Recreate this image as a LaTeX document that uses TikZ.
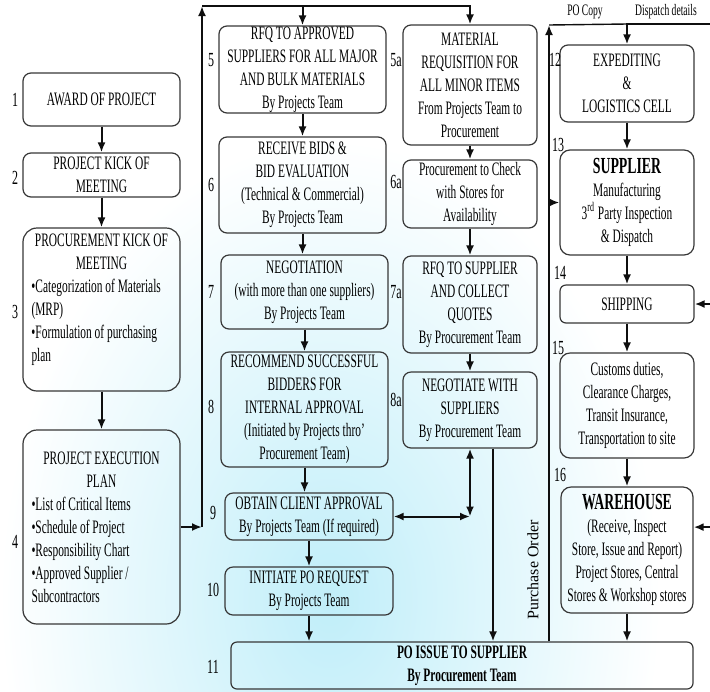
\documentclass[tikz,border=0pt]{standalone}
\usepackage{fontspec}
\setmainfont{Liberation Serif}[FakeStretch=0.6]
\newfontfamily\plainserif{Liberation Serif}
\usepackage{xcolor}
\usepackage{tikz}
\usetikzlibrary{arrows.meta, calc}
\definecolor{mydark}{RGB}{15,15,15}
\definecolor{myedge}{RGB}{55,55,55}
\definecolor{mycyan}{RGB}{192,238,249}
\newcommand{\headline}[1]{\makebox[70pt]{#1}}
\tikzset{
  stepbox/.style={rectangle, draw=myedge, line width=0.6pt, rounded corners=4pt,
    align=center, inner sep=0pt, font=\fontsize{9.5}{11.5}\selectfont},
  bigbox/.style={stepbox, rounded corners=7pt, align=left},
  numlabel/.style={inner sep=0pt, font=\fontsize{10}{12}\selectfont},
  toplabel/.style={inner sep=0pt, font=\fontsize{8}{9.6}\selectfont},
  sidelabel/.style={inner sep=0pt, rotate=90, font=\plainserif\fontsize{8}{9.6}\selectfont},
  arrow/.style={-{Latex[length=5pt,width=4pt]}, line width=1pt, color=mydark},
  dblarrow/.style={{Latex[length=5pt,width=4pt]}-{Latex[length=5pt,width=4pt]}, line width=1pt, color=mydark},
  line/.style={line width=1pt, color=mydark}
}
\begin{document}
\begin{tikzpicture}[x=0.5pt, y=-0.5pt]
  \useasboundingbox (0,0) rectangle (710,691);
  % background tint
  \shade[inner color=mycyan, outer color=white] (330,600) ellipse (165pt and 230pt);

  % left column
  \node[stepbox, minimum width=78.5pt, minimum height=26.5pt] (b1) at (101.5,99.5) {AWARD OF PROJECT};
  \node[stepbox, minimum width=78.5pt, minimum height=22pt] (b2) at (101.5,175) {PROJECT KICK OF\\MEETING};
  \node[bigbox, minimum width=78.5pt, minimum height=81.5pt] (b3) at (101.5,309.5)
    {\headline{PROCUREMENT KICK OF}\\\headline{MEETING}\\
     \textbullet Categorization of Materials\\(MRP)\\\textbullet Formulation of purchasing\\plan\\\mbox{}};
  \node[bigbox, minimum width=78.5pt, minimum height=97pt] (b4) at (101.5,527)
    {\headline{PROJECT EXECUTION}\\\headline{PLAN}\\
     \textbullet List of Critical Items\\\textbullet Schedule of Project\\\textbullet Responsibility Chart\\
     \textbullet Approved Supplier /\\Subcontractors};

  % projects team column
  \node[stepbox, minimum width=83.5pt, minimum height=43.5pt] (b5) at (302.5,69.5)
    {RFQ TO APPROVED\\SUPPLIERS FOR ALL MAJOR\\AND BULK MATERIALS\\By Projects Team};
  \node[stepbox, minimum width=83.5pt, minimum height=48pt] (b6) at (302.5,185)
    {RECEIVE BIDS \&\\BID EVALUATION\\(Technical \& Commercial)\\By Projects Team};
  \node[stepbox, minimum width=83.5pt, minimum height=37pt] (b7) at (304.5,292)
    {NEGOTIATION\\(with more than one suppliers)\\By Projects Team};
  \node[stepbox, minimum width=83.5pt, minimum height=57.5pt] (b8) at (304.5,409.5)
    {RECOMMEND SUCCESSFUL\\BIDDERS FOR\\INTERNAL APPROVAL\\(Initiated by Projects thro'\\Procurement Team)};
  \node[stepbox, minimum width=84pt, minimum height=23.5pt] (b9) at (309,516.5)
    {OBTAIN CLIENT APPROVAL\\By Projects Team (If required)};
  \node[stepbox, minimum width=84pt, minimum height=24pt] (b10) at (309,591)
    {INITIATE PO REQUEST\\By Projects Team};
  \node[stepbox, rounded corners=3pt, minimum width=231pt, minimum height=23.5pt] (b11) at (462,665.5)
    {\bfseries PO ISSUE TO SUPPLIER\\\bfseries By Procurement Team};

  % procurement column
  \node[stepbox, minimum width=67pt, minimum height=60pt] (b5a) at (470,85)
    {MATERIAL\\REQUISITION FOR\\ALL MINOR ITEMS\\From Projects Team to\\Procurement};
  \node[stepbox, minimum width=67pt, minimum height=34pt] (b6a) at (470,194)
    {Procurement to Check\\with Stores for\\Availability};
  \node[stepbox, minimum width=67pt, minimum height=48.5pt] (b7a) at (470,304.5)
    {RFQ TO SUPPLIER\\AND COLLECT\\QUOTES\\By Procurement Team};
  \node[stepbox, minimum width=67pt, minimum height=38pt] (b8a) at (470,410)
    {NEGOTIATE WITH\\SUPPLIERS\\By Procurement Team};

  % logistics column
  \node[stepbox, minimum width=67pt, minimum height=38.5pt] (b12) at (627,83.5)
    {EXPEDITING\\\&\\LOGISTICS CELL};
  \node[stepbox, rounded corners=5pt, minimum width=67pt, minimum height=52.5pt] (b13) at (627,202.5)
    {{\fontsize{11.5}{12}\selectfont\bfseries SUPPLIER}\\Manufacturing\\3\textsuperscript{rd} Party Inspection\\\& Dispatch};
  \node[stepbox, rounded corners=3pt, minimum width=67pt, minimum height=19pt] (b14) at (627,304) {SHIPPING};
  \node[stepbox, rounded corners=5pt, minimum width=67pt, minimum height=52.5pt] (b15) at (627,405.5)
    {Customs duties,\\Clearance Charges,\\Transit Insurance,\\Transportation to site};
  \node[stepbox, rounded corners=5pt, minimum width=66pt, minimum height=63pt] (b16) at (627,550)
    {{\fontsize{11.5}{12}\selectfont\bfseries WAREHOUSE}\\(Receive, Inspect\\Store, Issue and Report)\\Project Stores, Central\\Stores \& Workshop stores};

  % step numbers
  \node[numlabel] (n1) at (15,100) {1};
  \node[numlabel] (n2) at (15,178) {2};
  \node[numlabel] (n3) at (15,312) {3};
  \node[numlabel] (n4) at (15,542) {4};
  \node[numlabel] (n5) at (211,60) {5};
  \node[numlabel] (n6) at (211,185) {6};
  \node[numlabel] (n7) at (211,292) {7};
  \node[numlabel] (n8) at (211,407) {8};
  \node[numlabel] (n9) at (213,513) {9};
  \node[numlabel] (n10) at (213,590) {10};
  \node[numlabel] (n11) at (213,667) {11};
  \node[numlabel] (n5a) at (396,60) {5a};
  \node[numlabel] (n6a) at (396,182) {6a};
  \node[numlabel] (n7a) at (396,292) {7a};
  \node[numlabel] (n8a) at (396,400) {8a};
  \node[numlabel] (n12) at (555,60) {12};
  \node[numlabel] (n13) at (558,145) {13};
  \node[numlabel] (n14) at (560,273) {14};
  \node[numlabel] (n15) at (558,348) {15};
  \node[numlabel] (n16) at (560,475) {16};

  % texts on the lines
  \node[toplabel] (pocopy) at (585,12) {PO Copy};
  \node[toplabel] (dispatch) at (666,12) {Dispatch details};
  \node[sidelabel] (porder) at (533,570) {Purchase Order};

  % helper points
  \coordinate (lx) at (202,6);
  \coordinate (pox) at (549,25);
  \coordinate (ordx) at (493,0);
  \coordinate (rim) at (710,24);
  \coordinate (dtop) at (b12.north |- rim);
  \coordinate (jn) at (b8a.south |- b9.east);
  \coordinate (w16) at ($(b16.north east)!0.32!(b16.south east)$);

  % flow down the columns
  \foreach \a/\b in {b1/b2, b2/b3, b3/b4, b5/b6, b6/b7, b7/b8, b8/b9, b9/b10, b10/b11,
                     b5a/b6a, b6a/b7a, b7a/b8a, b12/b13, b13/b14, b14/b15, b15/b16, b16/b11}
    \draw[arrow] (\a.south) -- (\a.south |- \b.north);

  % plan feeds both rfq branches
  \draw[arrow] (b4.east) -- (b4.east -| lx);
  \draw[arrow] (b4.east -| lx) -- (lx);
  \draw[arrow] (lx) -- (b5a.north |- lx) -- (b5a.north);
  \draw[arrow] (b5.north |- lx) -- (b5.north);

  % negotiation and client approval
  \draw[dblarrow] (b9.east) -- (jn);
  \draw[dblarrow] (b8a.south) -- (jn);
  \draw[arrow] (b8a.south -| ordx) -- (b11.north -| ordx);

  % po copy and dispatch details
  \draw[arrow] (b11.north -| pox) -- (pox);
  \draw[line, line width=0.7pt] (pox) -- (dtop);
  \draw[arrow] (rim) -- (dtop) -- (b12.north);
  \draw[arrow] (pox |- b13.west) -- (b13.west);

  % inputs from the right
  \draw[arrow] (b14.east -| rim) -- (b14.east);
  \draw[arrow] (w16 -| rim) -- (w16);
\end{tikzpicture}
\end{document}
